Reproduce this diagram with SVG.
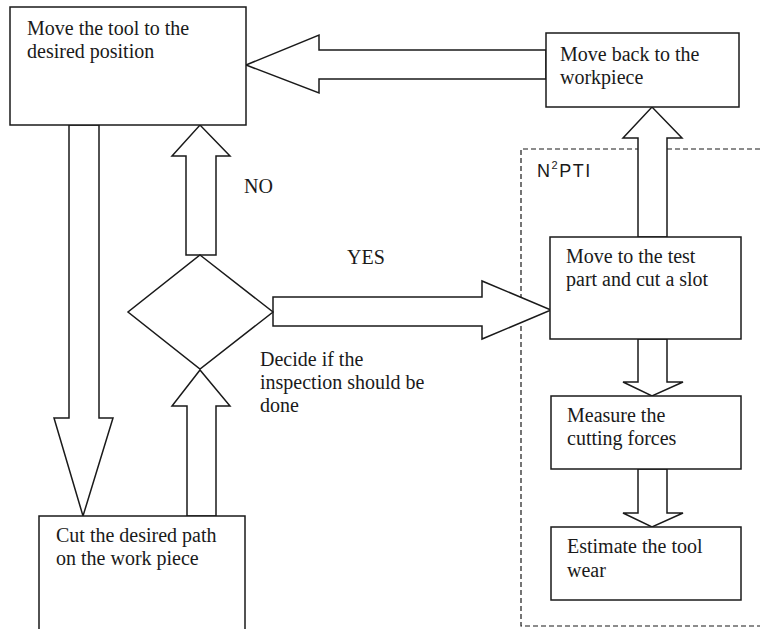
<svg xmlns="http://www.w3.org/2000/svg" width="760" height="629" viewBox="0 0 760 629">
<style>
.box{fill:#fff;stroke:#1a1a1a;stroke-width:1.5}
.arr{fill:#fff;stroke:#1a1a1a;stroke-width:1.5;stroke-linejoin:miter}
.t{font-family:"Liberation Serif","Times New Roman",serif;font-size:20px;fill:#1a1a1a}
.s{font-family:"Liberation Sans",Arial,sans-serif;font-size:18px;fill:#1a1a1a;letter-spacing:1.5px}
.dash{fill:none;stroke:#1a1a1a;stroke-width:1.2;stroke-dasharray:5 3}
</style>
<rect width="760" height="629" fill="#fff"/>
<g id="n2pti">
<path class="dash" d="M760,149 H521 V626 H760"/>
<text class="s" x="537" y="177">N<tspan font-size="11" dy="-8">2</tspan><tspan dy="8">PTI</tspan></text>
</g>
<g id="connectors">
<polygon class="arr" points="546,50 319,50 319,35 246,65 319,93 319,79 546,79"/>
<polygon class="arr" points="638,237 638,138 623,138 652,107 682,138 667,138 667,237"/>
<polygon class="arr" points="186,255 186,156 172,156 200,125 230,156 216,156 216,255"/>
<polygon class="arr" points="69,125 69,418 54,418 83,516 113,418 99,418 99,125"/>
<polygon class="arr" points="187,516 187,406 172,406 200,370 230,406 216,406 216,516"/>
<polygon class="arr" points="273,297 482,297 482,281 551,310 482,339 482,326 273,326"/>
<polygon class="arr" points="638,339 638,382 623,382 652,396 683,382 667,382 667,339"/>
<polygon class="arr" points="638,469 638,513 623,513 652,527 683,513 667,513 667,469"/>
<text class="t" x="244" y="193">NO</text>
<text class="t" x="347" y="264">YES</text>
</g>
<g id="move-tool">
<rect class="box" x="10" y="7" width="236" height="118"/>
<text class="t" x="27" y="35">Move the tool to the</text>
<text class="t" x="27" y="58">desired position</text>
</g>
<g id="move-back">
<rect class="box" x="546" y="33" width="193" height="74"/>
<text class="t" x="560" y="61">Move back to the</text>
<text class="t" x="560" y="84">workpiece</text>
</g>
<g id="decide">
<polygon class="box" points="200,255 273,312 200,369 128,312"/>
<text class="t" x="260" y="366">Decide if the</text>
<text class="t" x="260" y="389">inspection should be</text>
<text class="t" x="260" y="412">done</text>
</g>
<g id="test-part">
<rect class="box" x="550" y="237" width="191" height="102"/>
<text class="t" x="566" y="263">Move to the test</text>
<text class="t" x="566" y="286">part and cut a slot</text>
</g>
<g id="measure">
<rect class="box" x="551" y="396" width="190" height="73"/>
<text class="t" x="567" y="422">Measure the</text>
<text class="t" x="567" y="445">cutting forces</text>
</g>
<g id="estimate">
<rect class="box" x="551" y="527" width="190" height="73"/>
<text class="t" x="567" y="553">Estimate the tool</text>
<text class="t" x="567" y="577">wear</text>
</g>
<g id="cut-path">
<rect class="box" x="39" y="516" width="206" height="130"/>
<text class="t" x="56" y="542">Cut the desired path</text>
<text class="t" x="56" y="565">on the work piece</text>
</g>
</svg>
